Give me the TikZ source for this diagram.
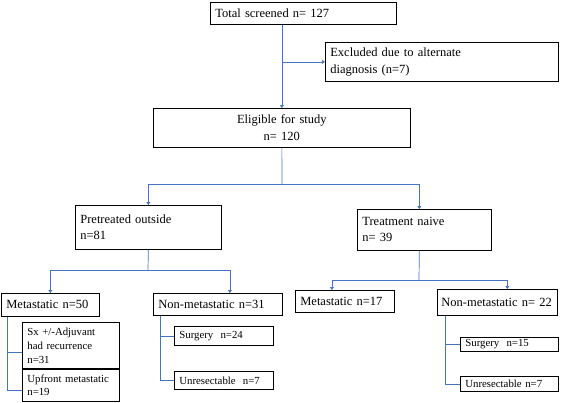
\documentclass[tikz,border=0pt]{standalone}
\usepackage{fontspec}
\setmainfont{Liberation Serif}
\usetikzlibrary{arrows.meta}
\begin{document}
\begin{tikzpicture}[x=1pt,y=-1pt,
  box/.style={draw=black,line width=0.7pt,anchor=north west,inner xsep=5pt,inner ysep=2pt,align=left,font=\fontsize{12.5}{16}\selectfont},
  sbox/.style={box,font=\fontsize{10.8}{14}\selectfont},
  cbox/.style={box,align=center},
  conn/.style={draw={rgb,255:red,68;green,114;blue,196},line width=0.7pt},
  arr/.style={conn,-{Triangle[width=4pt,length=3pt]}}]
\useasboundingbox (0,0) rectangle (567,402);
\node[box,text width=176pt,minimum height=22pt] (total) at (210,2) {Total screened n= 127};
\node[box,text width=223pt,minimum height=39pt,font=\fontsize{12.5}{17}\selectfont] (excl) at (325,42) {Excluded due to alternate\\diagnosis (n=7)};
\node[cbox,text width=247pt,minimum height=39pt,font=\fontsize{12.5}{17}\selectfont] (elig) at (153,108) {Eligible for study\\n= 120};
\node[box,text width=136pt,minimum height=44pt] (pre) at (75,205) {Pretreated outside\\n=81\\[3pt]};
\node[box,text width=124pt,minimum height=41pt] (naive) at (357,209) {Treatment naive\\n= 39\\[2pt]};
\node[box,text width=88pt,minimum height=23pt] (met50) at (1,293) {Metastatic n=50};
\node[sbox,text width=87pt,minimum height=47pt] (sx) at (22,322) {Sx +/-Adjuvant\\had recurrence\\n=31};
\node[sbox,text width=87pt,minimum height=33pt,font=\fontsize{10.8}{13}\selectfont] (up) at (22,368) {Upfront metastatic\\n=19};
\node[box,text width=119pt,minimum height=22pt] (non31) at (153,293) {Non-metastatic n=31};
\node[sbox,text width=89pt,minimum height=19pt] (surg24) at (174,326) {Surgery\ \ n=24};
\node[sbox,text width=89pt,minimum height=18pt] (unr7a) at (174,371) {Unresectable\ \ n=7};
\node[box,text width=89pt,minimum height=22pt] (met17) at (295,290) {Metastatic n=17};
\node[box,text width=112pt,minimum height=26pt,inner xsep=4pt] (non22) at (437,289) {Non-metastatic n= 22};
\node[sbox,text width=88pt,minimum height=14pt,inner ysep=1pt] (surg15) at (460,337) {Surgery\ \ n=15};
\node[sbox,text width=88pt,minimum height=15pt,inner ysep=1pt] (unr7b) at (460,376) {Unresectable n=7};
% connectors
\draw[arr] (elig.north |- total.south) -- (elig.north);
\draw[arr] (elig.north |- excl.west) -- (excl.west);
\coordinate (j1) at (282,184);
\draw[conn] (elig.south) -- (j1);
\draw[arr] (j1) -| (pre.north);
\draw[arr] (j1) -| ([xshift=-5pt]naive.north);
\coordinate (j2) at (148,270);
\draw[conn] (pre.south) -- (j2);
\draw[arr] (j2) -| (met50.north);
\draw[arr] (j2) -| ([xshift=12pt]non31.north);
\coordinate (j3) at (419,280);
\draw[conn] ([xshift=-5pt]naive.south) -- (j3);
\draw[arr] (j3) -| ([xshift=-13pt]met17.north);
\draw[arr] (j3) -| ([xshift=10pt]non22.north);
\draw[conn] ([xshift=6pt]met50.south west) |- ([yshift=-6pt]sx.west);
\draw[conn] ([xshift=6pt]met50.south west) |- ([yshift=-5pt]up.west);
\draw[conn] ([xshift=7pt]non31.south west) |- (surg24.west);
\draw[conn] ([xshift=7pt]non31.south west) |- (unr7a.west);
\draw[conn] ([xshift=8pt]non22.south west) |- (surg15.west);
\draw[conn] ([xshift=8pt]non22.south west) |- (unr7b.west);
\end{tikzpicture}
\end{document}
